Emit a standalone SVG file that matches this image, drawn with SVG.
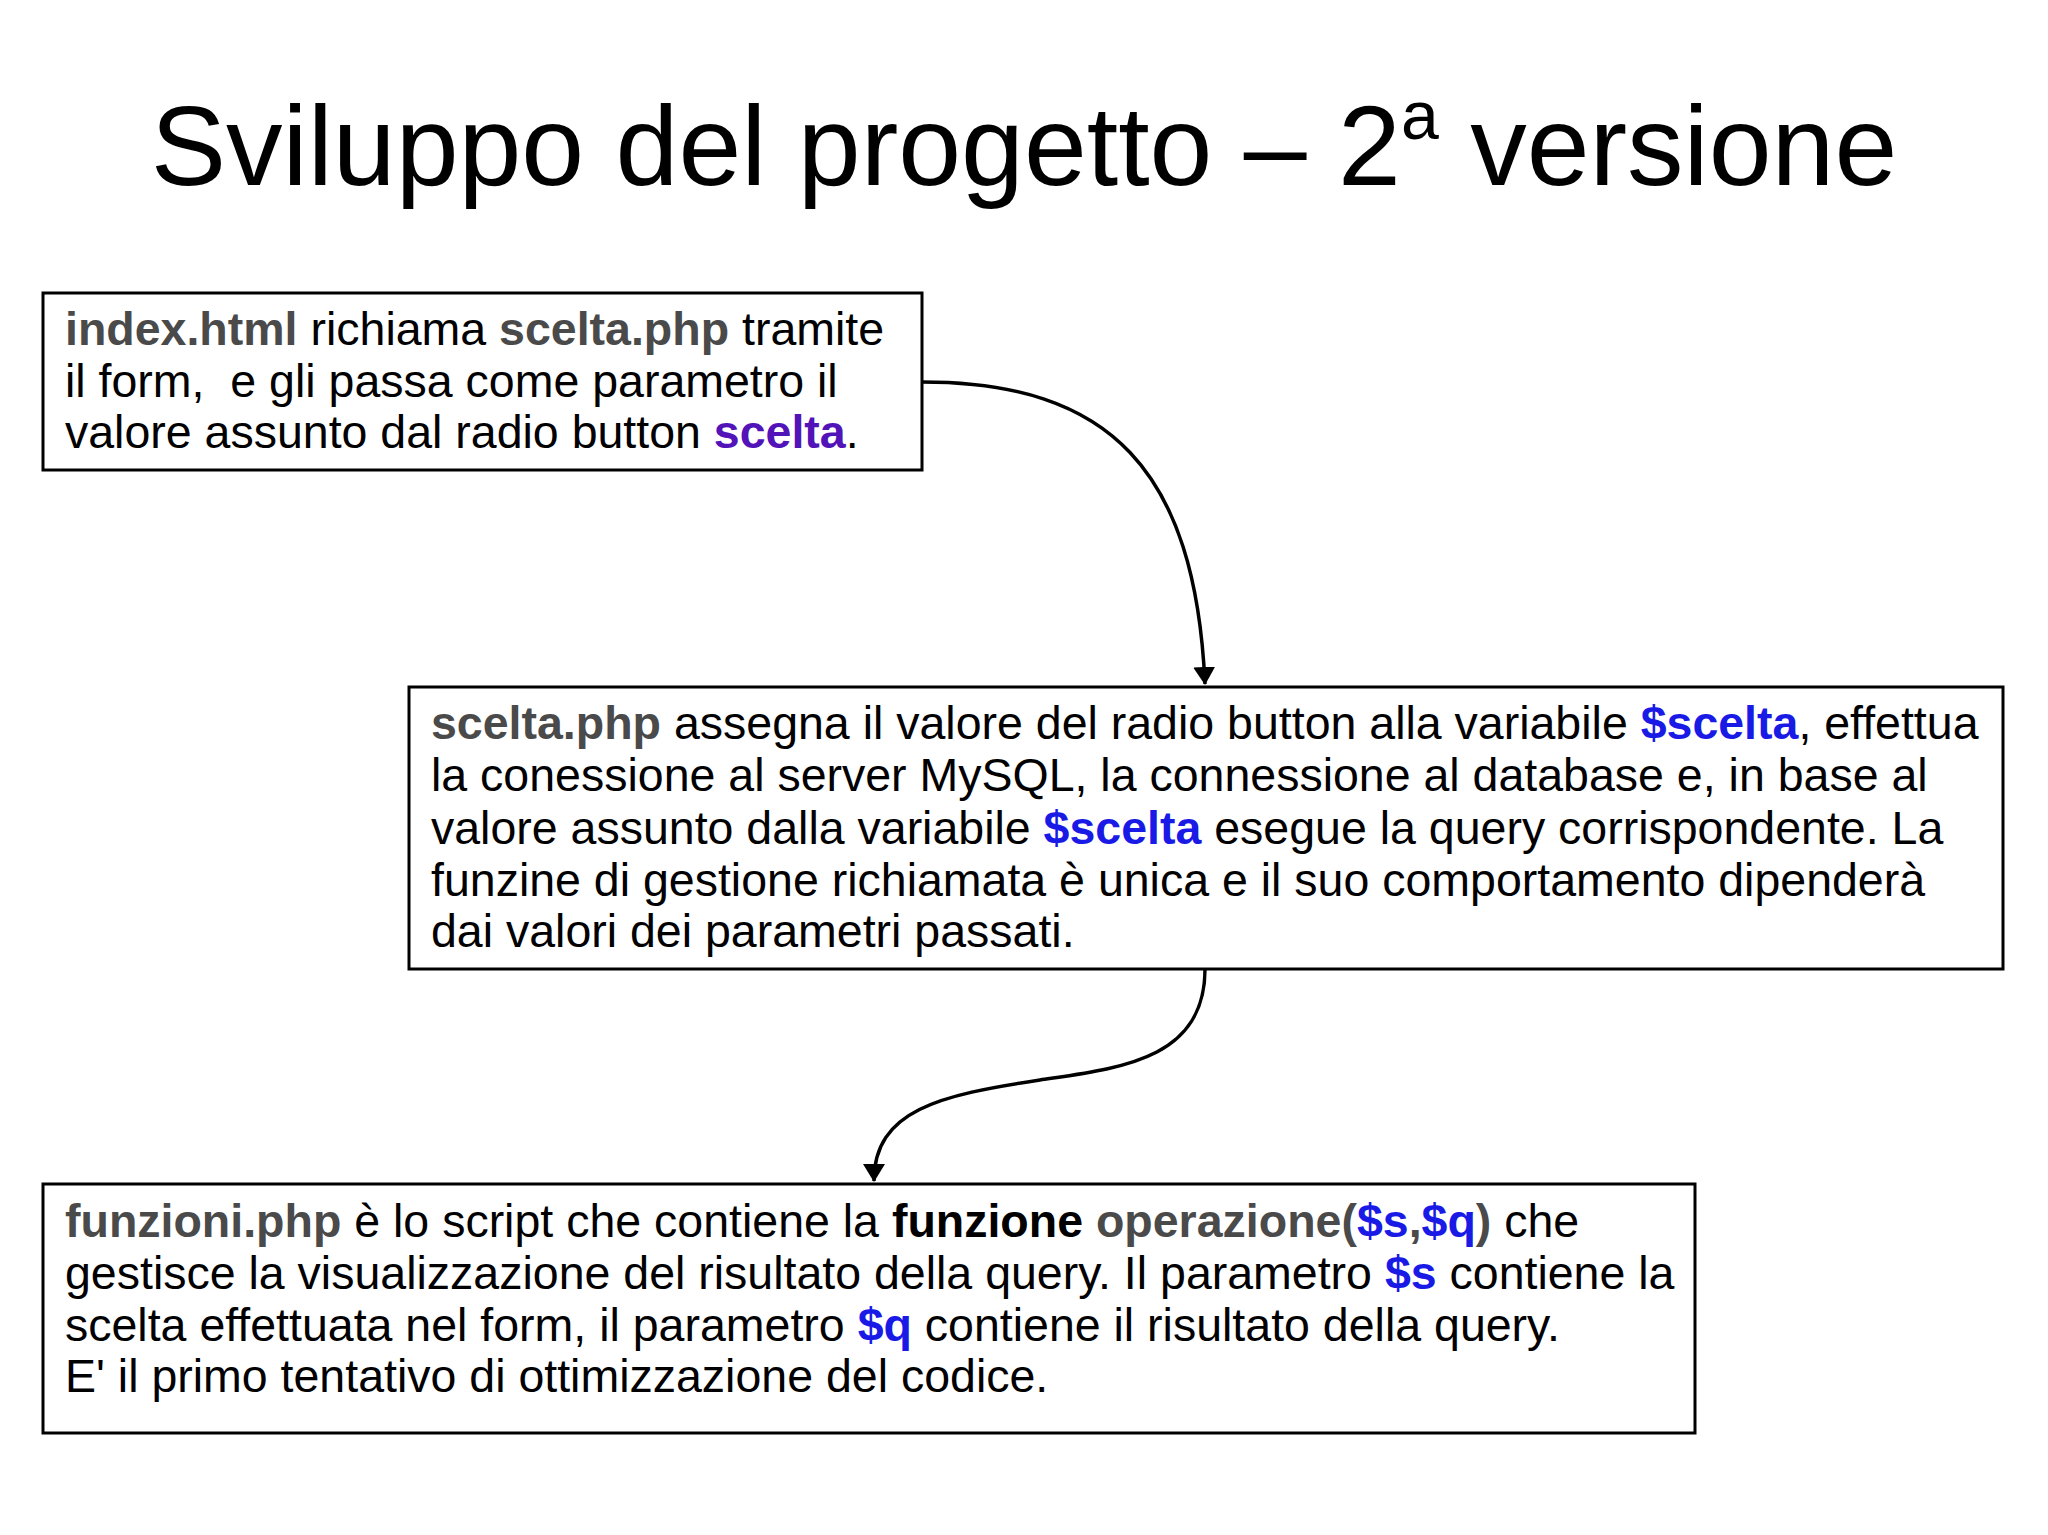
<svg xmlns="http://www.w3.org/2000/svg" width="2048" height="1535" viewBox="0 0 2048 1535">
<style>
text{font-family:"Liberation Sans",Arial,sans-serif;fill:#000;white-space:pre}
.b{font-size:46.5px}
.g{fill:#4a4a4a;font-weight:bold}
.k{font-weight:bold}
.bl{fill:#1a1ae6;font-weight:bold}
.pu{fill:#5213b8;font-weight:bold}
rect{fill:#fff;stroke:#000;stroke-width:3}
.c{fill:none;stroke:#000;stroke-width:3.5}
</style>
<defs><marker id="ah" markerWidth="18" markerHeight="22" refX="17" refY="11" orient="auto" markerUnits="userSpaceOnUse" viewBox="0 0 18 22"><path d="M0,0 L18,11 L0,22 z" fill="#000"/></marker></defs>
<rect x="0" y="0" width="2048" height="1535" style="stroke:none"/>
<text x="1024" y="185" text-anchor="middle" font-size="113">Sviluppo del progetto – 2<tspan font-size="68" dy="-46">a</tspan><tspan dy="46"> versione</tspan></text>
<g id="connectors">
<path class="c" d="M922,382 C1110,382 1195,470 1205,684" marker-end="url(#ah)"/>
<path class="c" d="M1205,969 C1205,1060 1120,1068 1040,1080 C940,1095 874,1110 874,1181" marker-end="url(#ah)"/>
</g>
<g id="n1">
<rect x="43" y="293" width="879" height="177"/>
<text class="b" x="65" y="345"><tspan class="g">index.html</tspan> richiama <tspan class="g">scelta.php</tspan> tramite</text>
<text class="b" x="65" y="397" xml:space="preserve">il form,  e gli passa come parametro il</text>
<text class="b" x="65" y="448">valore assunto dal radio button <tspan class="pu">scelta</tspan>.</text>
</g>
<g id="n2">
<rect x="409" y="687" width="1594" height="282"/>
<text class="b" x="431" y="739"><tspan class="g">scelta.php</tspan> assegna il valore del radio button alla variabile <tspan class="bl">$scelta</tspan>, effettua</text>
<text class="b" x="431" y="791">la conessione al server MySQL, la connessione al database e, in base al</text>
<text class="b" x="431" y="844">valore assunto dalla variabile <tspan class="bl">$scelta</tspan> esegue la query corrispondente. La</text>
<text class="b" x="431" y="896">funzine di gestione richiamata è unica e il suo comportamento dipenderà</text>
<text class="b" x="431" y="947">dai valori dei parametri passati.</text>
</g>
<g id="n3">
<rect x="43" y="1184" width="1652" height="249"/>
<text class="b" x="65" y="1237"><tspan class="g">funzioni.php</tspan> è lo script che contiene la <tspan class="k">funzione</tspan> <tspan class="g">operazione(</tspan><tspan class="bl">$s</tspan><tspan class="g">,</tspan><tspan class="bl">$q</tspan><tspan class="g">)</tspan> che</text>
<text class="b" x="65" y="1289">gestisce la visualizzazione del risultato della query. Il parametro <tspan class="bl">$s</tspan> contiene la</text>
<text class="b" x="65" y="1341">scelta effettuata nel form, il parametro <tspan class="bl">$q</tspan> contiene il risultato della query.</text>
<text class="b" x="65" y="1392">E' il primo tentativo di ottimizzazione del codice.</text>
</g>
</svg>
